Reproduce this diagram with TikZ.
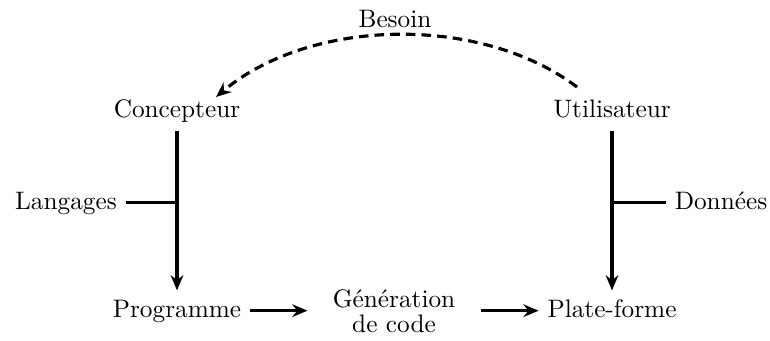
\documentclass[tikz,border=0pt]{standalone}
\usetikzlibrary{arrows.meta}
\begin{document}
\begin{tikzpicture}[x=0.0139cm,y=-0.0139cm,
  lbl/.style={anchor=base,text height=7pt,text depth=2pt},
  flow/.style={line width=1.2pt,-{Stealth[length=6pt,width=5pt]}},
  tee/.style={line width=1.2pt},
  need/.style={line width=1.25pt,dash pattern=on 3.8pt off 2.4pt,-{Stealth[length=6pt,width=5pt]}}]
\useasboundingbox (0,0) rectangle (770,340);
\node[lbl] (concepteur) at (177,117) {Concepteur};
\node[lbl] (utilisateur) at (612,117) {Utilisateur};
\node[lbl] (programme) at (177,317) {Programme};
\node[align=center,inner xsep=9.8pt] (gen) at (394,311) {Génération\\[-2.3pt]de code};
\node[lbl] (plateforme) at (612,317) {Plate-forme};
\node[lbl] (langages) at (66,209) {Langages};
\node[lbl] (donnees) at (721,209) {Données};
\node[lbl] (besoin) at (395,27) {Besoin};
\draw[flow] (concepteur) -- (programme);
\draw[flow] (utilisateur) -- (plateforme);
\draw[tee] (langages.east) -- (langages.east -| concepteur);
\draw[tee] (donnees.west) -- (donnees.west -| utilisateur);
\draw[flow] (programme) -- (programme -| gen.west);
\draw[flow] (gen.east |- plateforme) -- (plateforme);
\coordinate (arcstart) at (577,87);
\coordinate (arcend) at (216,97);
\draw[need] (arcstart) .. controls (480,14) and (310,18) .. (arcend);
\end{tikzpicture}
\end{document}
